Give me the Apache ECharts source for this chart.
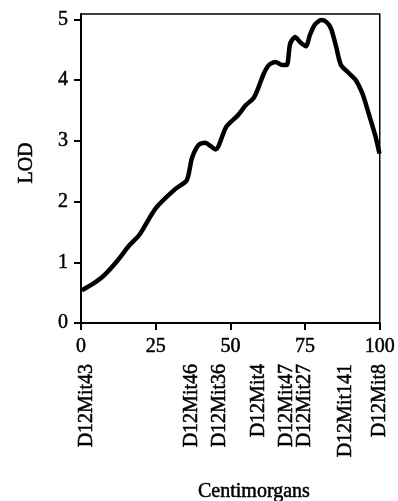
<!DOCTYPE html>
<html>
<head>
<meta charset="utf-8">
<script src="https://cdn.jsdelivr.net/npm/echarts@6/dist/echarts.min.js"></script>
<style>html,body{margin:0;padding:0;background:#fff}#c{width:398px;height:501px}</style>
</head>
<body>
<div id="c"></div>
<script>
// Data
const cM = [0.3, 4.1, 7.4, 11.9, 16.2, 19.5, 25.0, 31.6, 35.4, 37.1, 39.3, 41.5, 45.0, 48.6, 52.5, 55.2, 57.7, 59.0, 61.2, 62.9, 65.1, 67.3, 68.9, 70.0, 71.7, 73.3, 75.3, 76.6, 78.2, 80.4, 82.1, 83.7, 85.4, 87.0, 89.8, 92.0, 94.2, 96.3, 98.6, 99.9];
const lod = [0.54, 0.65, 0.77, 1.01, 1.28, 1.45, 1.89, 2.21, 2.35, 2.71, 2.93, 2.97, 2.86, 3.23, 3.42, 3.59, 3.70, 3.83, 4.11, 4.25, 4.30, 4.25, 4.25, 4.60, 4.71, 4.63, 4.56, 4.74, 4.91, 4.99, 4.96, 4.85, 4.55, 4.25, 4.11, 4.00, 3.78, 3.45, 3.07, 2.79];
const markerNames = ['D12Mit43', 'D12Mit46', 'D12Mit36', 'D12Mit4', 'D12Mit47', 'D12Mit27', 'D12Mit141', 'D12Mit8'];
const markerPos = [2, 37, 46.3, 59.5, 68.8, 74.8, 88.5, 100];
const yTicks = [0, 1, 2, 3, 4, 5];
const xTicks = [0, 25, 50, 75, 100];

const FONT = 'Liberation Serif';
const heavy = {textBorderColor: '#000', textBorderWidth: 0.5};
const chart = echarts.init(document.getElementById('c'), null, {renderer: 'canvas'});
chart.setOption({
  backgroundColor: '#fff',
  animation: false,
  title: {
    text: 'Centimorgans', left: 193, top: 477,
    textStyle: Object.assign({fontFamily: FONT, fontSize: 20, fontWeight: 'normal', color: '#000'}, heavy)
  },
  graphic: [{
    type: 'text', x: 27, y: 163, rotation: Math.PI / 2,
    style: {text: 'LOD', font: '20px "Liberation Serif"', fill: '#000', stroke: '#000', lineWidth: 0.5, align: 'center', verticalAlign: 'middle'}
  }],
  grid: {left: 81, right: 13, top: 14, bottom: 178, show: true, borderColor: '#000', borderWidth: 1.5, backgroundColor: 'transparent'},
  xAxis: [{
    type: 'value', min: 0, max: 100, interval: 25, position: 'bottom',
    axisLine: {show: true, lineStyle: {color: '#000', width: 2}},
    axisTick: {show: true, length: 7, lineStyle: {color: '#000', width: 2}},
    axisLabel: Object.assign({color: '#000', fontFamily: FONT, fontSize: 20, margin: 14, customValues: xTicks}, heavy),
    splitLine: {show: false}
  }, {
    type: 'value', min: 0, max: 100, position: 'bottom', offset: 0,
    axisLine: {show: false}, axisTick: {show: false}, splitLine: {show: false},
    axisLabel: Object.assign({
      color: '#000', fontFamily: FONT, fontSize: 20, margin: 41, rotate: 90,
      customValues: markerPos,
      formatter: function (v) {
        let best = 0, d = 1e9;
        markerPos.forEach((p, i) => { if (Math.abs(p - v) < d) { d = Math.abs(p - v); best = i; } });
        return markerNames[best];
      }
    }, heavy)
  }],
  yAxis: {
    type: 'value', min: 0, max: 5.09, interval: 1,
    axisLine: {show: true, lineStyle: {color: '#000', width: 2}},
    axisTick: {show: true, length: 7, lineStyle: {color: '#000', width: 2}, customValues: yTicks},
    axisLabel: Object.assign({color: '#000', fontFamily: FONT, fontSize: 20, margin: 13, customValues: yTicks}, heavy),
    splitLine: {show: false}
  },
  series: [{
    type: 'line', xAxisIndex: 0,
    data: cM.map((x, i) => [x, lod[i]]),
    showSymbol: false, smooth: 0.25,
    lineStyle: {color: '#000', width: 4.5}
  }]
});
</script>
</body>
</html>
